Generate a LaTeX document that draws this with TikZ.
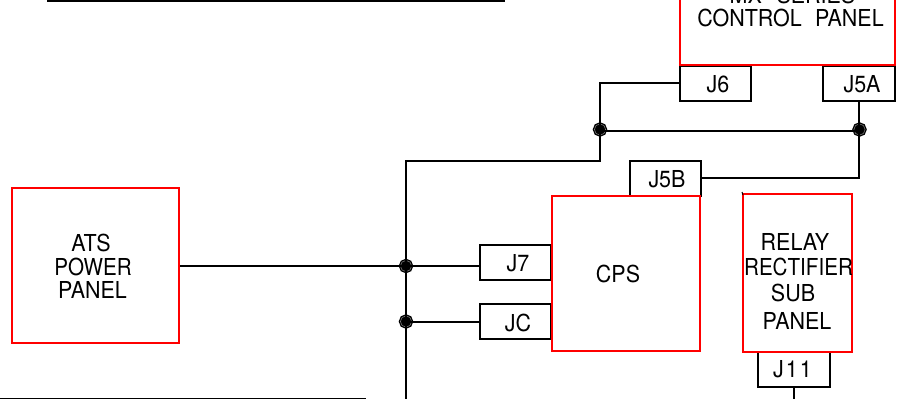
\documentclass[tikz,border=0pt]{standalone}
\usepackage{fontspec}
\setmainfont[FakeStretch=0.92]{TeX Gyre Heros}
\tikzset{
 wire/.style={draw=black,line width=1.5pt},
 redbox/.style={draw=red,line width=1.5pt,inner sep=0pt},
 connbox/.style={draw=black,line width=1.5pt,inner sep=0pt,minimum width=53.6pt,minimum height=26.6pt},
 lbl/.style={inner sep=0pt,font=\fontsize{17.5}{19}\selectfont,text=black},
 dotj/.style={circle,draw=black,fill=black,double=gray,double distance=0.4pt,line width=1pt,inner sep=0pt,minimum size=8.4pt}
}
\begin{document}
\begin{tikzpicture}[x=0.75pt,y=-0.75pt]
\useasboundingbox (0,0) rectangle (899,399);
\fill[white] (0,0) rectangle (899,399);
% clipped black frames
\coordinate (fa) at (48,-10);
\coordinate (fb) at (504,-10);
\coordinate (fc) at (0,398.5);
\coordinate (fd) at (366,398.5);
\draw[wire] (fa) |- (276,1) -| (fb);
\draw[wire] (fc) -- (fd);
% connector boxes
\node[connbox] (j6) at (715.75,83.25) {};
\node[connbox] (j5a) at (859,83.25) {};
\node[connbox] (j5b) at (665.25,178.5) {};
\node[connbox] (j7) at (515.75,262.25) {};
\node[connbox] (jc) at (515.75,321.75) {};
\node[connbox] (j11) at (794,369.25) {};
% red panels
\node[redbox,minimum width=161.25pt,minimum height=56.25pt] (mx) at (787.5,27.5) {};
\node[redbox,minimum width=111.4pt,minimum height=116.6pt] (cps) at (626,273.75) {};
\node[redbox,minimum width=81.75pt,minimum height=118.5pt] (relay) at (797.5,272.5) {};
\node[redbox,minimum width=125.25pt,minimum height=116.6pt] (ats) at (95.5,265.75) {};
\coordinate (tick) at (743,195);
\draw[black,line width=0.8pt] (relay.north west) ++(0,-0.5) -- (tick);
% labels
\node[lbl] at (792.5,-5.5) {MX\hspace{11pt}SERIES};
\node[lbl] at (790.5,18) {CONTROL\hspace{10pt}PANEL};
\node[lbl] at (718,84) {J6};
\node[lbl] at (862,84) {J5A};
\node[lbl] at (667,179) {J5B};
\node[lbl] at (518,263) {J7};
\node[lbl] at (518,322.5) {JC};
\node[lbl] at (618,274) {CPS};
\node[lbl] at (91,243) {ATS};
\node[lbl] at (93,266.5) {\scalebox{0.96}[1]{POWER}};
\node[lbl] at (92.5,290) {PANEL};
\node[lbl] at (795,242) {RELAY};
\node[lbl] at (798.5,266.5) {\scalebox{0.96}[1]{RECTIFIER}};
\node[lbl] at (793,293) {SUB};
\node[lbl] at (797,321) {PANEL};
\node[lbl] at (792.5,369.5) {J\hspace{1.5pt}1\hspace{1.5pt}1};
% junctions
\node[dotj] (a) at (600,129.5) {};
\node[dotj] (b) at (859.5,129.5) {};
\node[dotj] (c) at (406,266) {};
\node[dotj] (d) at (406,321.5) {};
\coordinate (bend) at (600,161);
\coordinate (down) at (406,399);
\coordinate (j11end) at (794,399);
% wires
\draw[wire] (j6.west) -| (a.center) -- (bend) -| (c.center) -- (d.center) -- (down);
\draw[wire] (600,131) -- (859.5,131);
\draw[wire] (j5a.south) -- (j5a.south |- b) -- (j5a.south |- j5b.east) -- (j5b.east);
\draw[wire] (ats.east |- c) -- (c.center) -- (j7.west |- c);
\draw[wire] (d.center) -- (jc.west |- d);
\draw[wire] (j11.south) -- (j11end);
\end{tikzpicture}
\end{document}
